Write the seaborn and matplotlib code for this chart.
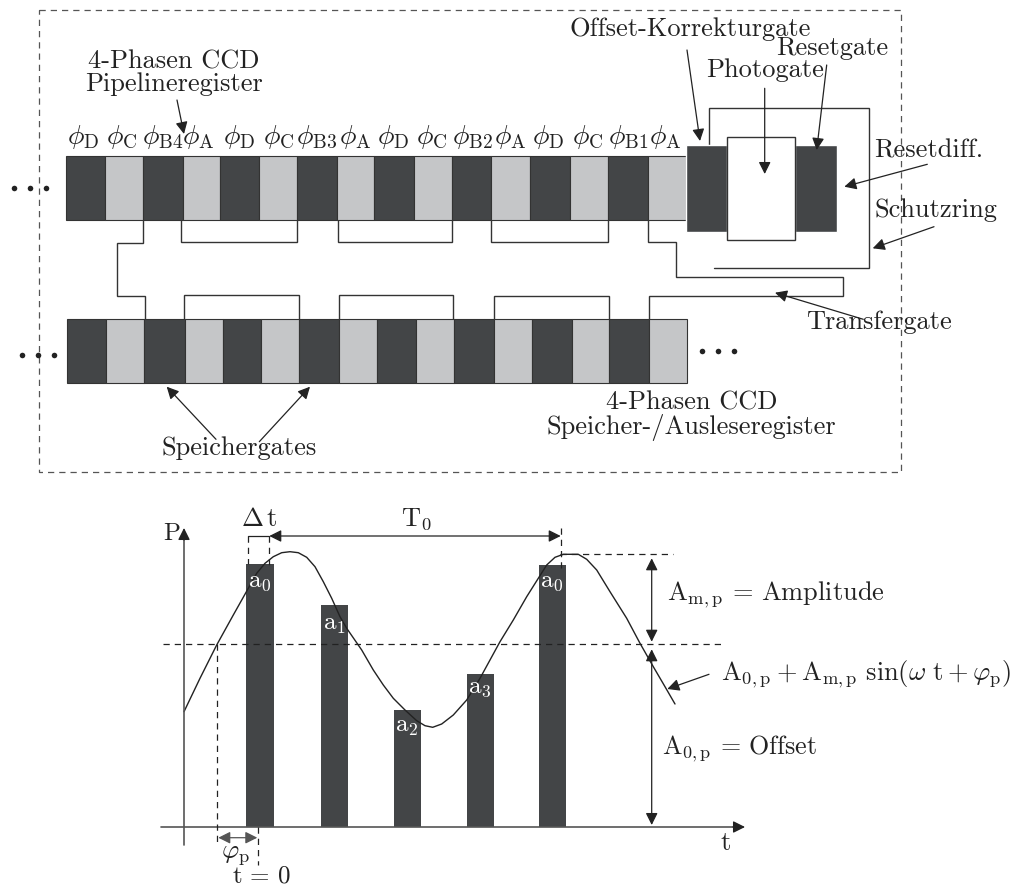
import warnings

import matplotlib.pyplot as plt
import pandas as pd
import seaborn as sns

warnings.filterwarnings('ignore')

# upper part: CCD gates (pixel positions)
row1_edges = [66, 104.7, 142.7, 182.7, 220, 259, 296.7, 336.7, 374.3, 414, 452, 491.3, 530, 570, 607.7, 647.7, 685.7]
row2_edges = [67.3, 106, 144, 185, 223, 261, 299, 339.3, 377, 416, 454, 493.7, 531.7, 571.7, 609, 649, 687]
phase_labels = ['D', 'C', 'B4', 'A', 'D', 'C', 'B3', 'A', 'D', 'C', 'B2', 'A', 'D', 'C', 'B1', 'A']
phase_x = [83, 122, 163, 198, 239, 279, 317, 355, 393, 432, 473, 510, 548, 588, 628, 665]

# lower part: samples and curve, heights are above the t axis
sample_x = [260, 334.5, 407.5, 480.5, 552.5]
sample_height = [263, 222, 117.5, 153, 262]
sample_names = ['0', '1', '2', '3', '0']
sample_label_y = [581.7, 625, 726.7, 688.3, 582.3]

curve_x = [184, 200, 216.7, 233.3, 248.3, 256.7, 265, 273.3, 281.7, 290, 298.3, 306.7, 315, 323.3, 331.7, 340,
           346.7, 361.7, 373.3, 383.3, 393.3, 405, 416.7, 425, 432.7, 441.7, 453.3, 466.7, 480, 490, 500, 513.3,
           526.7, 538.3, 546.7, 555, 563.3, 578.3, 586.7, 596.7, 610, 626.7, 640, 653.3, 665, 675]
curve_h = [115.3, 148.7, 182, 212, 238.7, 253.7, 263.7, 270.3, 274.3, 275.3, 274.3, 269.7, 260.3, 245.3, 228.7, 210.3,
           198.7, 177, 157, 142, 128.7, 117, 106.3, 101.3, 99.7, 103, 112, 127, 148.7, 167, 185.3, 207,
           230.3, 248.7, 262, 269.7, 272.7, 272.7, 267.7, 257, 235.3, 208.7, 183.7, 160.3, 140.3, 123]

DARK = '#434547'
LIGHT = '#c5c6c8'
INK = '#222222'
GREY = '#555555'
BASE_Y = 827

sns.set_theme(style='white')
plt.rcParams['font.family'] = ['cmr10', 'DejaVu Sans']
plt.rcParams['mathtext.fontset'] = 'cm'
plt.rcParams['axes.formatter.use_mathtext'] = True

fig = plt.figure(figsize=(10.16, 8.86), dpi=100)

# pixel axes for the drawing on top, second one for the values above the t axis
ax2 = fig.add_axes([0, 0, 1, 1], zorder=1)
ax = fig.add_axes([0, 0, 1, 1], zorder=2)
ax.patch.set_alpha(0)


def gates(edges, top, bottom):
    for i in range(len(edges) - 1):
        color = DARK if i % 2 == 0 else LIGHT
        ax.bar(edges[i], bottom - top, edges[i + 1] - edges[i], bottom=top, align='edge',
               color=color, edgecolor='#333333', linewidth=0.8, zorder=2)


def wire(points, color='#333333', lw=1):
    ax.plot([p[0] for p in points], [p[1] for p in points], color=color, lw=lw, zorder=1,
            solid_joinstyle='miter')


def arrow(tail, head, style='-|>', color=INK, lw=0.9):
    ax.annotate('', xy=head, xytext=tail, zorder=6,
                arrowprops=dict(arrowstyle=style, color=color, lw=lw, shrinkA=0, shrinkB=0,
                                mutation_scale=18))


def dashed(points, color=INK):
    ax.plot([p[0] for p in points], [p[1] for p in points], color=color, lw=0.9, zorder=5,
            dashes=(5, 4))


def label(x, y, s, size=19, ha='center', color=INK, **kw):
    ax.text(x, y, s, fontsize=size, ha=ha, va='center', color=color, zorder=7, **kw)


gates(row1_edges, 155.7, 220)
gates(row2_edges, 318.7, 383.3)

# Offset gate, photogate, reset gate
ax.bar(685.7, 86.7, 41, bottom=145, align='edge', color=DARK, zorder=2)
ax.bar(795, 86.7, 41.7, bottom=145, align='edge', color=DARK, zorder=2)
ax.bar(726.7, 103, 68, bottom=137, align='edge', color='white', edgecolor='#333333', linewidth=1, zorder=3)

# frame
dashed([(39, 10), (901, 10), (901, 472.3), (39, 472.3), (39, 10)], color=GREY)

# wires between the registers
wire([(142.7, 220), (142.7, 243.3), (116.7, 243.3), (116.7, 295.7), (145.3, 295.7), (145.3, 318.7)])
wire([(181.3, 220), (181.3, 242.3), (296.7, 242.3), (296.7, 220)])
wire([(337.7, 220), (337.7, 242.3), (451.7, 242.3), (451.7, 220)])
wire([(491, 220), (491, 241.7), (607.7, 241.7), (607.7, 220)])
wire([(647.7, 220), (647.7, 242), (675.7, 242), (675.7, 277.3), (842.7, 277.3), (842.7, 296),
      (649, 296), (649, 318.7)])
wire([(184.3, 318.7), (184.3, 295), (299, 295), (299, 318.7)])
wire([(338.7, 318.7), (338.7, 295), (453.3, 295), (453.3, 318.7)])
wire([(493.7, 318.7), (493.7, 295.7), (609, 295.7), (609, 318.7)])
wire([(709, 145), (709, 107.7), (868.7, 107.7), (868.7, 268.3), (714, 268.3)])

# continuation dots
dots = pd.DataFrame({'x': [14, 30.3, 46.3, 22, 38, 54, 701.7, 718, 734],
                     'y': [188.3, 188.3, 188.3, 355, 355, 355, 351, 351, 351]})
sns.scatterplot(data=dots, x='x', y='y', ax=ax, color=INK, s=16, linewidth=0, zorder=6)

for x, name in zip(phase_x, phase_labels):
    label(x, 137, r'$\phi_{\mathrm{%s}}$' % name, size=20)

label(174, 73, '4-Phasen CCD\nPipelineregister', linespacing=0.95)
label(239, 447.7, 'Speichergates')
label(690, 29, 'Offset-Korrekturgate')
label(831.7, 47.7, 'Resetgate')
label(765, 70, 'Photogate')
label(929, 150.7, 'Resetdiff.')
label(935.7, 210, 'Schutzring')
label(879, 321.7, 'Transfergate')
label(691.7, 416, '4-Phasen CCD\nSpeicher-/Ausleseregister', linespacing=0.95)

arrow((177, 100), (184, 134))
arrow((216, 439.3), (166.7, 386.7))
arrow((259.3, 441.7), (310, 386.7))
arrow((687, 50), (700, 141))
arrow((764.7, 88.3), (764.7, 174))
arrow((826.7, 65), (816.7, 150))
arrow((927.3, 164.3), (844.3, 186.7))
arrow((934, 226.7), (872.7, 248.3))
arrow((863.3, 319.3), (775, 292.7))

# lower chart
sns.barplot(x=sample_x, y=sample_height, native_scale=True, ax=ax2, color=DARK, saturation=1,
            width=0.38, linewidth=0, zorder=2)
sns.lineplot(x=curve_x, y=curve_h, ax=ax2, color=INK, lw=1, sort=False, estimator=None, zorder=4)

# axes: grey shaft, dark head
wire([(184, 845), (184, 535)], color=GREY, lw=1.2)
wire([(161, BASE_Y), (740, BASE_Y)], color=GREY, lw=1.2)
arrow((184, 540), (184, 528))
arrow((733, BASE_Y), (745, BASE_Y))

dashed([(162.7, 644.3), (721.7, 644.3)])
dashed([(560, 554), (673, 554)])
dashed([(217.3, 644.3), (217.3, 843)])
dashed([(258.3, 827), (258.3, 865)])
dashed([(248.3, 536), (248.3, 564)])
dashed([(269.3, 536), (269.3, 565)])
dashed([(560.7, 528), (560.7, 568)])
ax.plot([248.3, 269.3], [536, 536], color=INK, lw=0.9, zorder=5)

arrow((269.3, 536), (560.7, 536), style='<|-|>')
arrow((218.3, 837.7), (257.3, 837.7), style='<|-|>', color=GREY)
arrow((651.7, 558.3), (651.7, 641.7), style='<|-|>')
arrow((651.7, 649.3), (651.7, 825), style='<|-|>')
arrow((709, 674.3), (667.3, 689))

label(171.7, 534, 'P', size=18)
label(726, 843, 't')
label(259, 519, r'$\Delta\,\mathrm{t}$', size=19)
label(416.7, 519, r'$\mathrm{T}_0$', size=19)
label(235.7, 855, r'$\varphi_{\mathrm{p}}$', size=19)
label(261, 876, r'$\mathrm{t}\,=\,0$', size=18)

for x, name, y in zip(sample_x, sample_names, sample_label_y):
    label(x - 0.5, y, r'$\mathrm{a}_{%s}$' % name, size=18, color='white')

label(667, 594.7, r'$\mathrm{A}_{\mathrm{m,p}}\,=\,\mathrm{Amplitude}$', size=19, ha='left')
label(720.7, 674.3, r'$\mathrm{A}_{0,\mathrm{p}}+\mathrm{A}_{\mathrm{m,p}}\ \mathrm{sin}(\omega\ \mathrm{t}+\varphi_{\mathrm{p}})$',
      size=19, ha='left')
label(662, 749, r'$\mathrm{A}_{0,\mathrm{p}}\,=\,\mathrm{Offset}$', size=18.7, ha='left')

ax.set_xlim(0, 1016)
ax.set_ylim(886, 0)
ax.axis('off')
ax2.set_xlim(0, 1016)
ax2.set_ylim(BASE_Y - 886, BASE_Y)
ax2.axis('off')

plt.savefig('out.png', dpi=100)
plt.close()
